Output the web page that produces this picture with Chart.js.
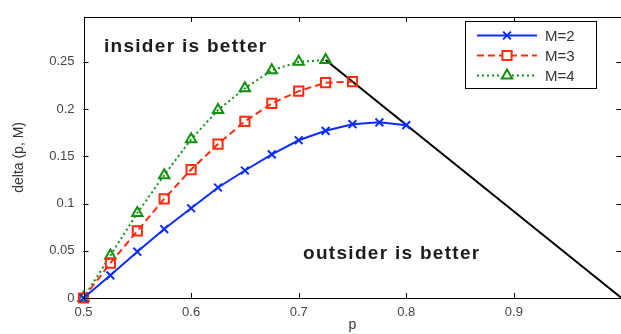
<!DOCTYPE html>
<html>
<head>
<meta charset="utf-8">
<script src="https://cdn.jsdelivr.net/npm/chart.js@4.4.1/dist/chart.umd.min.js"></script>
<style>
  html, body { margin: 0; padding: 0; background: #fff; overflow: hidden; }
  #wrap { width: 630px; height: 334px; }
</style>
</head>
<body>
<div id="wrap"><canvas id="chart"></canvas></div>
<script>
// values
const pM2 = [0.5, 0.525, 0.55, 0.575, 0.6, 0.625, 0.65, 0.675, 0.7, 0.725, 0.75, 0.775, 0.8];
const deltaM2 = [0, 0.024, 0.049, 0.073, 0.095, 0.117, 0.135, 0.152, 0.167, 0.177, 0.184, 0.186, 0.183];
const pM3 = [0.5, 0.525, 0.55, 0.575, 0.6, 0.625, 0.65, 0.675, 0.7, 0.725, 0.75];
const deltaM3 = [0, 0.037, 0.071, 0.105, 0.136, 0.163, 0.187, 0.206, 0.219, 0.228, 0.229];
const pM4 = [0.5, 0.525, 0.55, 0.575, 0.6, 0.625, 0.65, 0.675, 0.7, 0.725];
const deltaM4 = [0, 0.045, 0.090, 0.130, 0.168, 0.199, 0.222, 0.241, 0.250, 0.252];
const pBoundary = [0.725, 1.0];
const deltaBoundary = [0.252, 0];
const xTicks = [0.5, 0.6, 0.7, 0.8, 0.9];
const yTicks = [0, 0.05, 0.1, 0.15, 0.2, 0.25];
const legendLabels = ['M=2', 'M=3', 'M=4'];

const BLUE = '#0a2dff';
const RED = '#ff2a10';
const GREEN = '#0f900f';
const TICK_FONT = { family: 'Liberation Sans, Arial, sans-serif', size: 13 };

function points(xs, ys) {
  return xs.map((x, i) => ({ x, y: ys[i] }));
}

const series = [
  { label: legendLabels[0], data: points(pM2, deltaM2), borderColor: BLUE, borderDash: [],
    pointStyle: 'crossRot', pointRadius: 5.5 },
  { label: legendLabels[1], data: points(pM3, deltaM3), borderColor: RED, borderDash: [7, 4],
    pointStyle: 'rect', pointRadius: 6.5 },
  { label: legendLabels[2], data: points(pM4, deltaM4), borderColor: GREEN, borderDash: [2, 3],
    pointStyle: 'triangle', pointRadius: 6 }
];

const frame = {
  id: 'frame',
  afterDatasetsDraw(chart) {
    const { ctx, chartArea: a, scales: { x, y } } = chart;
    ctx.save();
    ctx.strokeStyle = '#000';
    ctx.lineWidth = 1;
    ctx.strokeRect(Math.round(a.left) + 0.5, Math.round(a.top) + 0.5,
      Math.round(a.right - a.left), Math.round(a.bottom - a.top));
    ctx.beginPath();
    xTicks.forEach((v) => {
      const px = Math.round(x.getPixelForValue(v)) + 0.5;
      ctx.moveTo(px, a.bottom); ctx.lineTo(px, a.bottom - 5);
      ctx.moveTo(px, a.top); ctx.lineTo(px, a.top + 5);
    });
    yTicks.forEach((v) => {
      const py = Math.round(y.getPixelForValue(v)) + 0.5;
      ctx.moveTo(a.left, py); ctx.lineTo(a.left + 5, py);
      ctx.moveTo(a.right, py); ctx.lineTo(a.right - 5, py);
    });
    ctx.stroke();

    // region labels
    ctx.fillStyle = '#1c1c1c';
    ctx.font = 'bold 19px Liberation Sans, Arial, sans-serif';
    ctx.letterSpacing = '1.3px';
    ctx.textBaseline = 'middle';
    ctx.textAlign = 'left';
    ctx.fillText('insider is better', x.getPixelForValue(0.519), y.getPixelForValue(0.266));
    ctx.fillText('outsider is better', x.getPixelForValue(0.704), y.getPixelForValue(0.047));
    ctx.letterSpacing = '0px';

    // legend box
    const bx = 465.5, by = 21.5, bw = 131, bh = 67;
    ctx.fillStyle = '#fff';
    ctx.fillRect(bx, by, bw, bh);
    ctx.strokeStyle = '#000';
    ctx.strokeRect(bx, by, bw, bh);
    ctx.font = '15px Liberation Sans, Arial, sans-serif';
    series.forEach((s, i) => {
      const ly = 35.5 + i * 20;
      ctx.strokeStyle = s.borderColor;
      ctx.lineWidth = 2;
      ctx.setLineDash(s.borderDash);
      ctx.beginPath();
      ctx.moveTo(477, ly); ctx.lineTo(537, ly);
      ctx.stroke();
      ctx.setLineDash([]);
      if (s.pointStyle !== 'crossRot') {
        ctx.fillStyle = '#fff';
        ctx.fillRect(507 - 5, ly - 5, 10, 10);
      }
      ctx.fillStyle = 'rgba(0,0,0,0)';
      Chart.helpers.drawPoint(ctx, { pointStyle: s.pointStyle, radius: s.pointRadius, rotation: 0, borderWidth: 2 }, 507, ly);
      ctx.fillStyle = '#333';
      ctx.fillText(s.label, 545, ly + 1);
    });
    ctx.restore();
  }
};

new Chart(document.getElementById('chart'), {
  type: 'line',
  data: {
    datasets: series.map((s) => ({
      label: s.label,
      data: s.data,
      borderColor: s.borderColor,
      backgroundColor: 'transparent',
      borderWidth: 2,
      borderDash: s.borderDash,
      pointStyle: s.pointStyle,
      pointRadius: s.pointRadius,
      pointBorderWidth: 2,
      pointBorderColor: s.borderColor,
      pointBackgroundColor: 'transparent',
      tension: 0,
      clip: false
    })).concat([{
      label: 'boundary',
      data: points(pBoundary, deltaBoundary),
      borderColor: '#000',
      borderWidth: 2,
      pointRadius: 0,
      tension: 0,
      clip: false
    }])
  },
  options: {
    responsive: true,
    maintainAspectRatio: false,
    animation: false,
    events: [],
    layout: { padding: { top: 8, right: 3, left: 0, bottom: 0 } },
    plugins: { legend: { display: false }, tooltip: { enabled: false } },
    scales: {
      x: {
        type: 'linear',
        min: 0.5,
        max: 1.0,
        afterBuildTicks: (scale) => { scale.ticks = xTicks.map((v) => ({ value: v })); },
        afterFit: (scale) => { scale.height = 36; },
        grid: { display: false, drawTicks: false },
        border: { display: false },
        ticks: { color: '#444', font: TICK_FONT, padding: 7, maxRotation: 0, callback: (v) => String(v) },
        title: { display: true, text: 'p', color: '#333', font: { family: 'Liberation Sans, Arial, sans-serif', size: 14 }, padding: { top: 0, bottom: 0 } }
      },
      y: {
        type: 'linear',
        min: 0,
        max: 0.2977,
        afterBuildTicks: (scale) => { scale.ticks = yTicks.map((v) => ({ value: v })); },
        afterFit: (scale) => { scale.width = 83.5; },
        grid: { display: false, drawTicks: false },
        border: { display: false },
        ticks: { color: '#444', font: TICK_FONT, padding: 9, callback: (v) => String(v) },
        title: { display: true, text: 'delta (p, M)', color: '#333', font: { family: 'Liberation Sans, Arial, sans-serif', size: 14 }, padding: { top: 11, bottom: 0 } }
      }
    }
  },
  plugins: [frame]
});
</script>
</body>
</html>
